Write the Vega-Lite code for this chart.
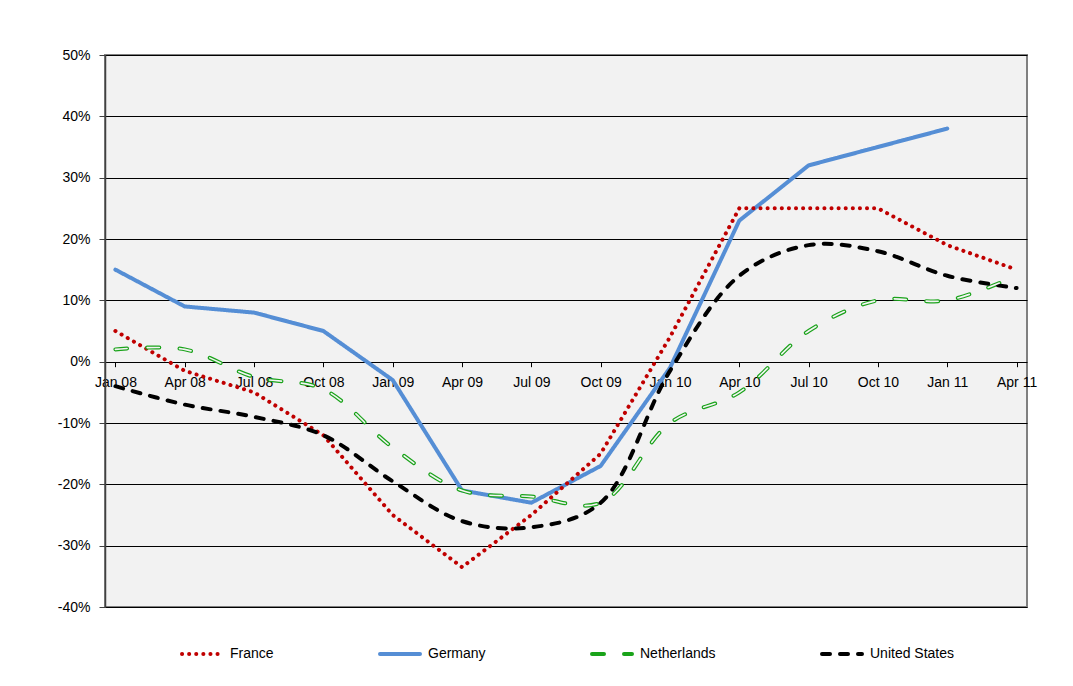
{
  "$schema": "https://vega.github.io/schema/vega-lite/v6.json",
  "width": 922,
  "height": 552,
  "autosize": {"type": "none"},
  "padding": {"left": 105, "top": 55, "right": 46, "bottom": 79},
  "background": "white",
  "config": {
    "font": "Liberation Sans",
    "view": {"fill": "#f2f2f2", "stroke": "#808080", "strokeWidth": 2},
    "legend": {"labelFont": "Liberation Sans", "labelFontSize": 14, "labelColor": "black"}
  },
  "data": {
    "values": [
      {"q": "Jan 08", "country": "France", "v": 5},
      {"q": "Apr 08", "country": "France", "v": -1.5},
      {"q": "Jul 08", "country": "France", "v": -5},
      {"q": "Oct 08", "country": "France", "v": -12},
      {"q": "Jan 09", "country": "France", "v": -25},
      {"q": "Apr 09", "country": "France", "v": -33.5},
      {"q": "Jul 09", "country": "France", "v": -25},
      {"q": "Oct 09", "country": "France", "v": -15},
      {"q": "Jan 10", "country": "France", "v": 4},
      {"q": "Apr 10", "country": "France", "v": 25},
      {"q": "Jul 10", "country": "France", "v": 25},
      {"q": "Oct 10", "country": "France", "v": 25},
      {"q": "Jan 11", "country": "France", "v": 19},
      {"q": "Apr 11", "country": "France", "v": 15},
      {"q": "Jan 08", "country": "Germany", "v": 15},
      {"q": "Apr 08", "country": "Germany", "v": 9},
      {"q": "Jul 08", "country": "Germany", "v": 8},
      {"q": "Oct 08", "country": "Germany", "v": 5},
      {"q": "Jan 09", "country": "Germany", "v": -3},
      {"q": "Apr 09", "country": "Germany", "v": -21},
      {"q": "Jul 09", "country": "Germany", "v": -23},
      {"q": "Oct 09", "country": "Germany", "v": -17},
      {"q": "Jan 10", "country": "Germany", "v": -1},
      {"q": "Apr 10", "country": "Germany", "v": 23},
      {"q": "Jul 10", "country": "Germany", "v": 32},
      {"q": "Oct 10", "country": "Germany", "v": 35},
      {"q": "Jan 11", "country": "Germany", "v": 38},
      {"q": "Jan 08", "country": "Netherlands", "v": 2},
      {"q": "Apr 08", "country": "Netherlands", "v": 2},
      {"q": "Jul 08", "country": "Netherlands", "v": -2.5},
      {"q": "Oct 08", "country": "Netherlands", "v": -4.5},
      {"q": "Jan 09", "country": "Netherlands", "v": -14},
      {"q": "Apr 09", "country": "Netherlands", "v": -21},
      {"q": "Jul 09", "country": "Netherlands", "v": -22},
      {"q": "Oct 09", "country": "Netherlands", "v": -23},
      {"q": "Jan 10", "country": "Netherlands", "v": -10},
      {"q": "Apr 10", "country": "Netherlands", "v": -5},
      {"q": "Jul 10", "country": "Netherlands", "v": 5},
      {"q": "Oct 10", "country": "Netherlands", "v": 10},
      {"q": "Jan 11", "country": "Netherlands", "v": 10},
      {"q": "Apr 11", "country": "Netherlands", "v": 14},
      {"q": "Jan 08", "country": "United States", "v": -4},
      {"q": "Apr 08", "country": "United States", "v": -7},
      {"q": "Jul 08", "country": "United States", "v": -9},
      {"q": "Oct 08", "country": "United States", "v": -12},
      {"q": "Jan 09", "country": "United States", "v": -19.5},
      {"q": "Apr 09", "country": "United States", "v": -26},
      {"q": "Jul 09", "country": "United States", "v": -27},
      {"q": "Oct 09", "country": "United States", "v": -23},
      {"q": "Jan 10", "country": "United States", "v": -1.5},
      {"q": "Apr 10", "country": "United States", "v": 14},
      {"q": "Jul 10", "country": "United States", "v": 19},
      {"q": "Oct 10", "country": "United States", "v": 18},
      {"q": "Jan 11", "country": "United States", "v": 14},
      {"q": "Apr 11", "country": "United States", "v": 12}
    ]
  },
  "encoding": {
    "x": {
      "field": "q",
      "type": "ordinal",
      "sort": null,
      "scale": {
        "type": "point",
        "padding": 0.15,
        "domain": ["Jan 08","Apr 08","Jul 08","Oct 08","Jan 09","Apr 09","Jul 09","Oct 09","Jan 10","Apr 10","Jul 10","Oct 10","Jan 11","Apr 11"]
      },
      "axis": {
        "title": null,
        "orient": "bottom",
        "offset": -245.3,
        "domain": false,
        "labelAngle": 0,
        "labelFont": "Liberation Sans",
        "labelFontSize": 14,
        "labelColor": "black",
        "labelPadding": 9,
        "tickSize": 5,
        "tickColor": "black",
        "grid": false,
        "labelOverlap": false
      }
    },
    "y": {
      "field": "v",
      "type": "quantitative",
      "scale": {"domain": [-40, 50], "nice": false, "zero": false},
      "axis": {
        "title": null,
        "values": [-40, -30, -20, -10, 0, 10, 20, 30, 40, 50],
        "labelExpr": "datum.value + '%'",
        "labelFont": "Liberation Sans",
        "labelFontSize": 14,
        "labelColor": "black",
        "labelPadding": 9,
        "tickSize": 6,
        "tickColor": "#404040",
        "domainColor": "#404040",
        "domainWidth": 1.5,
        "grid": true,
        "gridColor": "black",
        "gridWidth": 1,
        "gridOpacity": 1
      }
    }
  },
  "layer": [
    {
      "transform": [{"filter": "datum.country === 'Germany'"}],
      "mark": {"type": "line", "interpolate": "linear", "strokeCap": "round", "strokeJoin": "round"},
      "encoding": {
        "color": {
          "field": "country",
          "type": "nominal",
          "scale": {"domain": ["France","Germany","Netherlands","United States"], "range": ["#c00000","#558ed5","#1aa31a","#000000"]},
          "legend": {
            "title": null,
            "orient": "none",
            "legendX": 75,
            "legendY": 577,
            "direction": "horizontal",
            "symbolType": "stroke",
            "symbolSize": 1600,
            "symbolStrokeWidth": 3.5,
            "columnPadding": 98,
            "labelOffset": 6,
            "encode": {"symbols": {"update": {"strokeCap": {"value": "round"}}}}
          }
        },
        "strokeDash": {
          "field": "country",
          "type": "nominal",
          "scale": {"domain": ["France","Germany","Netherlands","United States"], "range": [[0.1, 7],[1, 0],[12, 20],[8, 10]]}
        },
        "strokeWidth": {
          "field": "country",
          "type": "ordinal",
          "scale": {"domain": ["France","Germany","Netherlands","United States"], "range": [4, 4, 4.5, 4.5]},
          "legend": null
        }
      }
    },
    {
      "transform": [{"filter": "datum.country === 'France'"}],
      "mark": {"type": "line", "interpolate": "linear", "strokeCap": "round", "strokeJoin": "round"},
      "encoding": {
        "color": {"field": "country", "type": "nominal"},
        "strokeDash": {"field": "country", "type": "nominal"},
        "strokeWidth": {"field": "country", "type": "ordinal", "legend": null}
      }
    },
    {
      "transform": [{"filter": "datum.country === 'Netherlands' || datum.country === 'United States'"}],
      "mark": {"type": "line", "interpolate": "catmull-rom", "strokeCap": "round", "strokeJoin": "round"},
      "encoding": {
        "color": {"field": "country", "type": "nominal"},
        "strokeDash": {"field": "country", "type": "nominal"},
        "strokeWidth": {"field": "country", "type": "ordinal", "legend": null}
      }
    },
    {
      "transform": [{"filter": "datum.country === 'Netherlands'"}],
      "mark": {"type": "line", "interpolate": "catmull-rom", "strokeCap": "round", "strokeJoin": "round", "stroke": "#f4f4f4", "strokeWidth": 1.6, "strokeDash": [12, 20]},
      "encoding": {}
    }
  ]
}
